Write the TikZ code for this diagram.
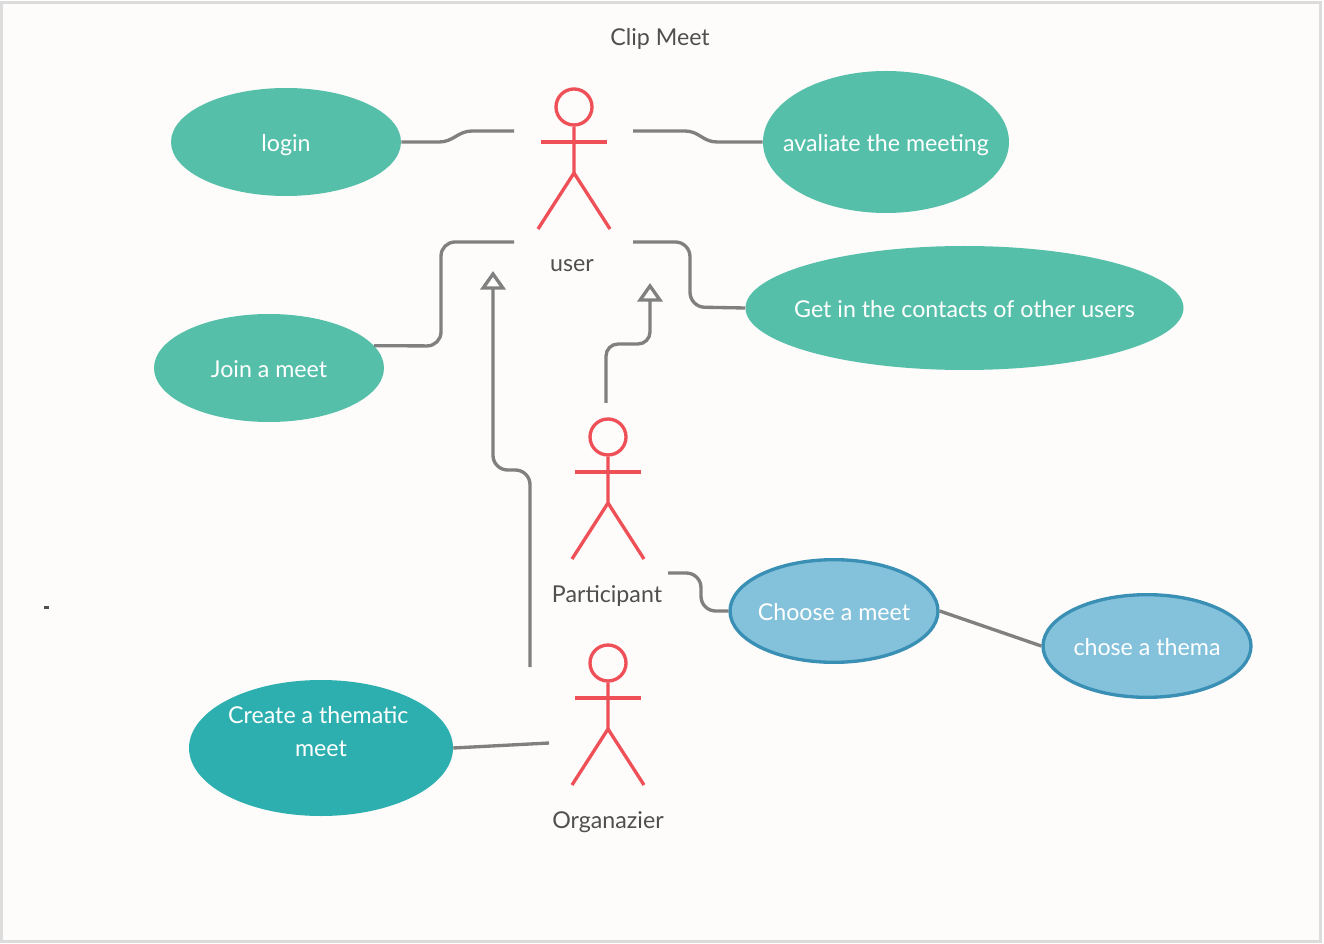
\documentclass[tikz,border=0pt]{standalone}
\usepackage{fontspec}
\setmainfont{Lato}
\usetikzlibrary{arrows.meta,shapes.geometric}
\definecolor{pagebg}{HTML}{FDFCFA}
\definecolor{framegray}{HTML}{DCDCDC}
\definecolor{linegray}{HTML}{808080}
\definecolor{actorred}{HTML}{EF5058}
\definecolor{textgray}{HTML}{4F4F4F}
\definecolor{casegreen}{HTML}{55BFA9}
\definecolor{caseteal}{HTML}{2EAFAF}
\definecolor{caseblue}{HTML}{84C2DC}
\definecolor{caseborder}{HTML}{3A8FB5}
\tikzset{
  usecase/.style={ellipse,fill=casegreen,text=white,inner xsep=-30pt,inner ysep=-30pt,align=center,font=\fontsize{17.4}{24.7}\selectfont},
  oneline/.style={text height=14.5pt,text depth=0pt},
  bluecase/.style={usecase,oneline,fill=caseblue,draw=caseborder,line width=2.5pt},
  label_node/.style={text=textgray,inner sep=0pt,font=\fontsize{17.4}{24.7}\selectfont},
  actor_line/.style={draw=actorred,line width=2.5pt},
  link/.style={draw=linegray,line width=2.5pt},
  inherit/.style={link,-{Triangle[open,length=14pt,width=19pt]}},
  actor/.pic={
    \node[circle,actor_line,minimum size=27pt,inner sep=0pt] (-head) at (0,0) {};
    \draw[actor_line] (-head.south) -- (0,66) -- (-36,122);
    \draw[actor_line] (0,66) -- (36,122);
    \draw[actor_line] (-33,35) -- (33,35);
  }
}
\begin{document}
\begin{tikzpicture}[x=0.75pt,y=-0.75pt]
    \useasboundingbox (0,0) rectangle (1324,944);
    \fill[white] (0,0) rectangle (1324,944);
    \draw[fill=pagebg,draw=framegray,line width=2.25pt] (1,3) rectangle (1320,941);
    \node[label_node] (title) at (660,39) {Clip Meet};
    \fill[textgray] (44,606) rectangle (49,609);

    % actors
    \pic (user) at (574,107) {actor};
    \pic (participant) at (608,437) {actor};
    \pic (organizer) at (608,663) {actor};
    \node[label_node] (userlabel) at (572,266) {user};
    \node[label_node] (participantlabel) at (607,596) {Participant};
    \node[label_node] (organizerlabel) at (608,822) {Organazier};

    % use cases
    \node[usecase,oneline,minimum width=172.5pt,minimum height=81pt] (login) at (286,142) {login};
    \node[usecase,oneline,minimum width=184.5pt,minimum height=106.5pt] (evaluate) at (886,142) {avaliate the meeting};
    \node[usecase,oneline,minimum width=172.5pt,minimum height=81pt] (join) at (269,368) {Join a meet};
    \node[usecase,oneline,minimum width=328.5pt,minimum height=93pt] (contacts) at (964.5,308) {Get in the contacts of other users};
    \node[usecase,fill=caseteal,minimum width=198pt,minimum height=102pt] (thematic) at (321,748) {Create a thematic\hspace*{4pt}\\meet\\ \mbox{}};
    \node[bluecase,minimum width=156pt,minimum height=77pt] (choose) at (834,611) {Choose a meet};
    \node[bluecase,minimum width=156pt,minimum height=77pt] (thema) at (1147,646) {chose a thema};

    % free ends of the connectors
    \coordinate (userNW) at (514,131);
    \coordinate (userNE) at (633,131);
    \coordinate (userSW) at (514,242);
    \coordinate (userSE) at (633,242);
    \coordinate (tipA) at (493,271);
    \coordinate (tipB) at (650,283);
    \coordinate (participantN) at (606,403);
    \coordinate (participantE) at (668,573);
    \coordinate (organizerN) at (530,667);
    \coordinate (organizerW) at (549,743);

    \draw[link] (login.east) -- ++(38,0) .. controls +(14,0) and +(-14,0) .. (472,131) -- (userNW);
    \draw[link] (userNE) -- (685,131) .. controls +(14,0) and +(-14,0) .. (717,142) -- (evaluate.west);
    \draw[link,rounded corners=10.5pt] (join.12) -- (441,346) -- (441,242) -- (userSW);
    \draw[link,rounded corners=11pt] (userSE) -- (690,242) -- (690,307) -- (contacts.west);
    \draw[inherit,rounded corners=9pt] (participantN) -- (606,344) -- (650,344) -- (tipB);
    \draw[inherit,rounded corners=11pt] (organizerN) -- (530,470) -- (493,470) -- (tipA);
    \draw[link,rounded corners=11pt] (participantE) -- (701,573) -- (701,611) -- (choose.west);
    \draw[link] (choose.east) -- (thema.west);
    \draw[link] (thematic.east) -- (organizerW);
\end{tikzpicture}
\end{document}
